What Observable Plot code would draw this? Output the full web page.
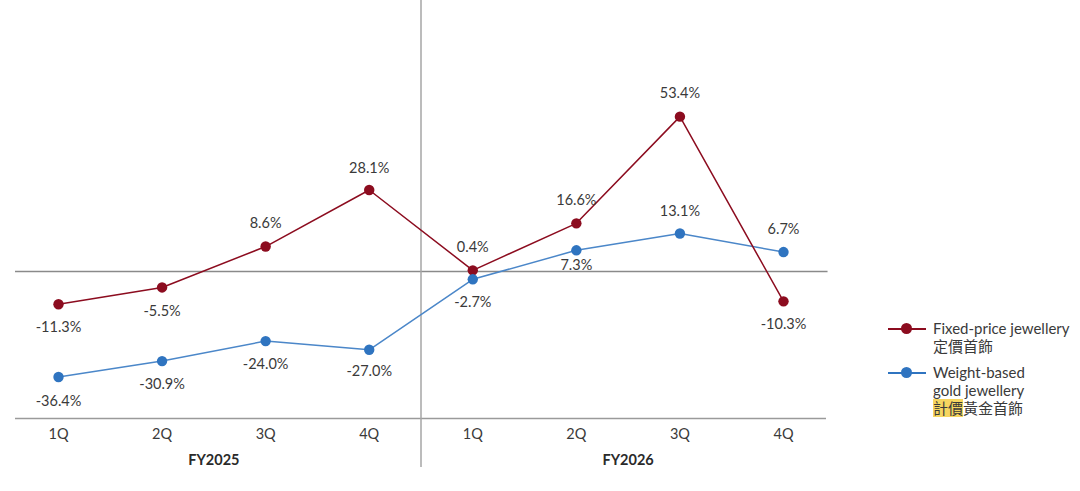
<!DOCTYPE html>
<html>
<head>
<meta charset="utf-8">
<script src="https://cdn.jsdelivr.net/npm/d3@7"></script>
<script src="https://cdn.jsdelivr.net/npm/@observablehq/plot@0.6"></script>
<style>
  body { margin: 0; background: #fff; font-family: Lato, "Noto Sans CJK TC", sans-serif; }
  #wrap { position: relative; width: 1080px; height: 491px; overflow: hidden; }
  #legend { position: absolute; left: 888px; top: 319px; color: #3a3a3a; font-size: 15px; line-height: 18px; }
  .item { display: flex; align-items: flex-start; margin-bottom: 8px; }
  .key { position: relative; width: 38px; height: 18px; flex: none; margin-right: 7px; }
  .key .ln { position: absolute; left: 0; right: 0; top: 9px; height: 2px; }
  .key .dt { position: absolute; left: 13px; top: 4px; width: 11px; height: 11px; border-radius: 50%; }
  .hl { background: #f6d660; }
</style>
</head>
<body>
<div id="wrap">
  <div id="chart"></div>
  <div id="legend"></div>
</div>
<script>
const quarters = ["1Q", "2Q", "3Q", "4Q", "1Q", "2Q", "3Q", "4Q"];
const years = ["FY2025", "FY2026"];
const fixedPrice = [-11.3, -5.5, 8.6, 28.1, 0.4, 16.6, 53.4, -10.3];
const weightBased = [-36.4, -30.9, -24.0, -27.0, -2.7, 7.3, 13.1, 6.7];

const RED = "#8c0c1f";
const BLUE = "#2f74c0";

// label offsets (px): negative = above the dot
const fixedDy = [23, 24, -23, -22, -23, -23, -23, 23];
const weightDy = [24, 23, 23, 22, 23, 15, -22, -23];

const rows = [
  ...fixedPrice.map((v, i) => ({ i, v, s: "fixed", dy: fixedDy[i] })),
  ...weightBased.map((v, i) => ({ i, v, s: "weight", dy: weightDy[i] }))
];
const fmt = v => v.toFixed(1) + "%";

const plot = Plot.plot({
  width: 1080,
  height: 491,
  marginLeft: 58,
  marginRight: 297,
  marginTop: 126,
  marginBottom: 73,
  x: { domain: [0, 7], axis: null },
  y: { domain: [-50.7, 50], axis: null },
  style: { fontFamily: "Lato, sans-serif", fontSize: "14px", color: "#3a3a3a" },
  marks: [
    Plot.ruleY([0], { x1: -0.415, x2: 7.43, stroke: "#8a8a8a", strokeWidth: 1.3 }),
    Plot.ruleY([-50.7], { x1: -0.415, x2: 7.415, stroke: "#9a9a9a", strokeWidth: 1.5 }),
    Plot.ruleX([3.5], { y1: -67.6, y2: 93.5, stroke: "#a6a6a6", strokeWidth: 1.5 }),
    Plot.line(rows.filter(d => d.s === "weight"), { x: "i", y: "v", stroke: "#4b87c9", strokeWidth: 1.5 }),
    Plot.line(rows.filter(d => d.s === "fixed"), { x: "i", y: "v", stroke: RED, strokeWidth: 1.5 }),
    Plot.dot(rows, { x: "i", y: "v", r: 5.2, fill: d => d.s === "fixed" ? RED : BLUE }),
    Plot.text(rows, { x: "i", y: "v", text: d => fmt(d.v), fill: "#3a3a3a", fontSize: 14.5, className: "vlabel" }),
    Plot.text(quarters, { x: (d, i) => i, frameAnchor: "bottom", dy: 20, text: d => d, fill: "#3a3a3a", fontSize: 14.5 }),
    Plot.text(years, { x: (d, i) => 1.5 + i * 4, frameAnchor: "bottom", dy: 46, text: d => d, fill: "#2a2a2a", fontSize: 14.5, fontWeight: "bold" })
  ]
});
document.getElementById("chart").append(plot);

// shift each value label above or below its dot
d3.select(plot).selectAll("g.vlabel text").each(function (_, k) {
  const t = d3.select(this);
  t.attr("transform", (t.attr("transform") || "") + ` translate(0,${rows[k].dy})`);
});

const legendItems = [
  { color: RED, lines: ["Fixed-price jewellery", "定價首飾"] },
  { color: BLUE, lines: ["Weight-based", "gold jewellery", "<span class='hl'>計價</span>黃金首飾"] }
];
document.getElementById("legend").innerHTML = legendItems.map(it =>
  `<div class="item"><div class="key"><div class="ln" style="background:${it.color}"></div><div class="dt" style="background:${it.color}"></div></div><div>${it.lines.join("<br>")}</div></div>`
).join("");
</script>
</body>
</html>
